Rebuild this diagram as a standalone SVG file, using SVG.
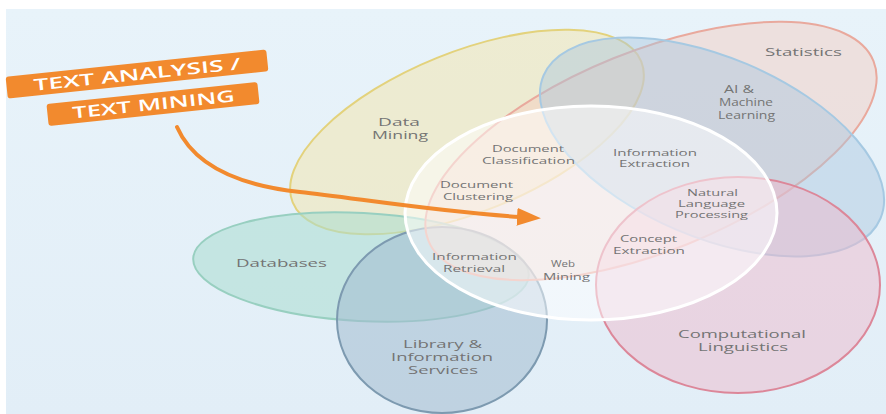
<svg xmlns="http://www.w3.org/2000/svg" width="886" height="414" viewBox="0 0 886 414">
  <defs>
    <linearGradient id="bg" x1="0" y1="0" x2="0" y2="1">
      <stop offset="0" stop-color="#e8f3fa"/>
      <stop offset="1" stop-color="#e2eef7"/>
    </linearGradient>
    <marker id="head" markerUnits="userSpaceOnUse" markerWidth="26" markerHeight="20" refX="3" refY="9" orient="auto">
      <path d="M0,0 L24,9 L0,18 z" fill="#f28a2e"/>
    </marker>
    <style>
      .lbl { font-family: "Open Sans", "Liberation Sans", sans-serif; fill: #747474; }
      .big { font-size: 10.5px; }
      .sm { font-size: 8.6px; }
      .tag { fill: #f28a2e; }
      .tagtxt { font-family: "Open Sans", "Liberation Sans", sans-serif; font-weight: 600; font-size: 16px; fill: #ffffff; }
      .area { stroke-width: 2; }
    </style>
  </defs>

  <!-- backdrop -->
  <rect x="0" y="0" width="886" height="414" fill="#ffffff"/>
  <rect x="6" y="9" width="880" height="405" fill="url(#bg)"/>

  <!-- fields -->
  <g id="data-mining">
    <ellipse class="area" cx="467" cy="132" rx="188" ry="80" transform="rotate(-22 467 132)" fill="#f3e6b0" fill-opacity="0.55" stroke="#e3d27c"/>
  </g>
  <g id="databases">
    <ellipse class="area" cx="361" cy="267" rx="168" ry="54" transform="rotate(3 361 267)" fill="#a9dccf" fill-opacity="0.55" stroke="#98cfc0" stroke-width="1.5"/>
  </g>
  <g id="library-information-services">
    <ellipse class="area" cx="442" cy="320" rx="105" ry="93" fill="#a2bccf" fill-opacity="0.55" stroke="#7d9ab0"/>
  </g>
  <g id="statistics">
    <ellipse class="area" cx="651" cy="151" rx="240" ry="100" transform="rotate(-22 651 151)" fill="#f5c9bd" fill-opacity="0.45" stroke="#e9a99d"/>
  </g>
  <g id="ai-machine-learning">
    <ellipse class="area" cx="712" cy="147" rx="183" ry="90" transform="rotate(23 712 147)" fill="#a9c6de" fill-opacity="0.45" stroke="#a6c9e2"/>
  </g>
  <g id="computational-linguistics">
    <ellipse class="area" cx="738" cy="285" rx="142" ry="108" fill="#eebacb" fill-opacity="0.5" stroke="#dc8799"/>
  </g>
  <g id="text-mining-core">
    <ellipse cx="591" cy="213" rx="186" ry="107" fill="#ffffff" fill-opacity="0.5" stroke="#ffffff" stroke-width="3"/>
  </g>

  <!-- banner -->
  <g id="text-analysis-tag">
    <g transform="rotate(-6 137 74)">
      <rect class="tag" x="6" y="63" width="262" height="22" rx="3"/>
      <text class="tagtxt" x="33" y="80" textLength="208" lengthAdjust="spacingAndGlyphs">TEXT ANALYSIS /</text>
    </g>
    <g transform="rotate(-6 153 104)">
      <rect class="tag" x="47" y="93" width="212" height="22" rx="3"/>
      <text class="tagtxt" x="72" y="110" textLength="163" lengthAdjust="spacingAndGlyphs">TEXT MINING</text>
    </g>
  </g>

  <!-- connectors -->
  <g id="connectors">
    <path d="M177,127 C195,168 245,186 300,192 S440,212 520,217" fill="none" stroke="#f28a2e" stroke-width="4" stroke-linecap="round" marker-end="url(#head)"/>
  </g>

  <!-- field names -->
  <g id="field-labels">
    <text class="lbl big" x="765" y="56" textLength="77" lengthAdjust="spacingAndGlyphs">Statistics</text>
    <text class="lbl big" x="724" y="93" textLength="30" lengthAdjust="spacingAndGlyphs">AI &amp;</text>
    <text class="lbl big" x="719" y="106" textLength="54" lengthAdjust="spacingAndGlyphs">Machine</text>
    <text class="lbl big" x="718" y="119" textLength="57" lengthAdjust="spacingAndGlyphs">Learning</text>
    <text class="lbl big" x="378" y="126" textLength="42" lengthAdjust="spacingAndGlyphs">Data</text>
    <text class="lbl big" x="372" y="139" textLength="56" lengthAdjust="spacingAndGlyphs">Mining</text>
    <text class="lbl big" x="236" y="267" textLength="91" lengthAdjust="spacingAndGlyphs">Databases</text>
    <text class="lbl big" x="403" y="348" textLength="79" lengthAdjust="spacingAndGlyphs">Library &amp;</text>
    <text class="lbl big" x="391" y="361" textLength="102" lengthAdjust="spacingAndGlyphs">Information</text>
    <text class="lbl big" x="408" y="374" textLength="70" lengthAdjust="spacingAndGlyphs">Services</text>
    <text class="lbl big" x="678" y="338" textLength="128" lengthAdjust="spacingAndGlyphs">Computational</text>
    <text class="lbl big" x="698" y="351" textLength="90" lengthAdjust="spacingAndGlyphs">Linguistics</text>
  </g>

  <!-- overlap names -->
  <g id="overlap-labels">
    <text class="lbl sm" x="492" y="152" textLength="72" lengthAdjust="spacingAndGlyphs">Document</text>
    <text class="lbl sm" x="482" y="164" textLength="93" lengthAdjust="spacingAndGlyphs">Classification</text>
    <text class="lbl sm" x="440" y="188" textLength="73" lengthAdjust="spacingAndGlyphs">Document</text>
    <text class="lbl sm" x="443" y="200" textLength="70" lengthAdjust="spacingAndGlyphs">Clustering</text>
    <text class="lbl sm" x="613" y="156" textLength="84" lengthAdjust="spacingAndGlyphs">Information</text>
    <text class="lbl sm" x="619" y="167" textLength="71" lengthAdjust="spacingAndGlyphs">Extraction</text>
    <text class="lbl sm" x="687" y="196" textLength="51" lengthAdjust="spacingAndGlyphs">Natural</text>
    <text class="lbl sm" x="678" y="207" textLength="67" lengthAdjust="spacingAndGlyphs">Language</text>
    <text class="lbl sm" x="675" y="218" textLength="73" lengthAdjust="spacingAndGlyphs">Processing</text>
    <text class="lbl sm" x="620" y="242" textLength="57" lengthAdjust="spacingAndGlyphs">Concept</text>
    <text class="lbl sm" x="613" y="254" textLength="72" lengthAdjust="spacingAndGlyphs">Extraction</text>
    <text class="lbl sm" x="551" y="267" textLength="24" lengthAdjust="spacingAndGlyphs">Web</text>
    <text class="lbl sm" x="543" y="280" textLength="47" lengthAdjust="spacingAndGlyphs">Mining</text>
    <text class="lbl sm" x="432" y="260" textLength="85" lengthAdjust="spacingAndGlyphs">Information</text>
    <text class="lbl sm" x="443" y="272" textLength="62" lengthAdjust="spacingAndGlyphs">Retrieval</text>
  </g>
</svg>
